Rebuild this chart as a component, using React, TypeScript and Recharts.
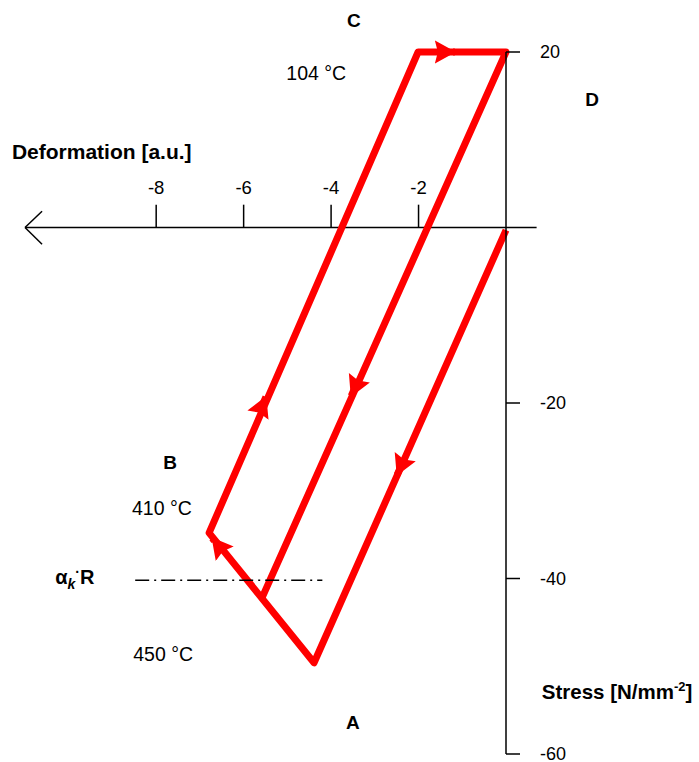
import React from 'react';
import { LineChart, Line, XAxis, YAxis, ReferenceLine, ReferenceDot } from 'recharts';

const FONT = '"Liberation Sans", Arial, sans-serif';
const RED = '#ff0000';

// the thermal cycle, in drawing order
const loopPath = [
  { x: 0, y: -0.3 },
  { x: -4.39, y: -49.6 }, // A
  { x: -6.79, y: -34.8 }, // B
  { x: -2.01, y: 20 }, // C
  { x: 0, y: 20 }, // D
  { x: -5.58, y: -42.2 }, // back onto A-B
];

// arrow tips, with the loop segment each one sits on
const arrowTips = [
  { x: -2.49, y: -28.2, seg: 0 },
  { x: -6.72, y: -35.4, seg: 1 },
  { x: -5.49, y: -19.3, seg: 2 },
  { x: -1.17, y: 20, seg: 3 },
  { x: -3.54, y: -19.2, seg: 4 },
];

const xTicks = [-8, -6, -4, -2];
const yTicks = [20, -20, -40, -60];
const levelLine = [
  { x: -8.48, y: -40.2 },
  { x: -4.2, y: -40.2 },
];

const labels = [
  { id: 'C', text: 'C', x: -3.48, y: 23.6, bold: true },
  { id: 't104', text: '104 °C', x: -4.34, y: 17.6, bold: false },
  { id: 'D', text: 'D', x: 1.97, y: 14.6, bold: true },
  { id: 'B', text: 'B', x: -7.68, y: -26.8, bold: true },
  { id: 't410', text: '410 °C', x: -7.87, y: -32.0, bold: false },
  { id: 't450', text: '450 °C', x: -7.84, y: -48.6, bold: false },
  { id: 'A', text: 'A', x: -3.5, y: -56.4, bold: true },
];

const arrowLines = arrowTips.map((a) => {
  const from = loopPath[a.seg];
  const to = loopPath[a.seg + 1];
  return [
    { x: a.x - 0.02 * (to.x - from.x), y: a.y - 0.02 * (to.y - from.y) },
    { x: a.x, y: a.y },
  ];
});

const textShape = (text: string, bold: boolean, size: number, anchor = 'middle') => (p: any) => (
  <text
    x={p.cx}
    y={p.cy}
    dy="0.35em"
    textAnchor={anchor}
    fontFamily={FONT}
    fontSize={size}
    fontWeight={bold ? 'bold' : 'normal'}
    fill="#000"
  >
    {text}
  </text>
);

export default function App() {
  return (
    <div style={{ position: 'fixed', left: 0, top: 0, width: 699, height: 762, background: '#fff' }}>
      <svg width={0} height={0} style={{ position: 'absolute' }}>
        <defs>
          <marker
            id="arrowHead"
            viewBox="0 0 22 24"
            markerWidth={22}
            markerHeight={24}
            refX={20}
            refY={12}
            orient="auto"
            markerUnits="userSpaceOnUse"
          >
            <path d="M0,0.5 L21,12 L0,23.5 L3,12 Z" fill={RED} />
          </marker>
        </defs>
      </svg>
      <LineChart width={699} height={762} margin={{ top: 52, right: 133, bottom: 8, left: 25 }}>
        <XAxis type="number" dataKey="x" domain={[-11, 0]} hide />
        <YAxis
          orientation="right"
          type="number"
          domain={[-60, 20]}
          ticks={yTicks}
          interval={0}
          width={60}
          tickSize={14}
          tickMargin={20}
          axisLine={{ stroke: '#000', strokeWidth: 1.5 }}
          tickLine={{ stroke: '#000', strokeWidth: 1.5 }}
          tick={{ fill: '#000', fontSize: 18, fontFamily: FONT }}
        />
        {/* deformation axis with its arrow */}
        <ReferenceLine
          segment={[{ x: -11, y: 0 }, { x: 0.7, y: 0 }]}
          stroke="#000"
          strokeWidth={1.5}
          ifOverflow="visible"
        />
        <ReferenceLine
          segment={[{ x: -11, y: 0 }, { x: -10.61, y: 1.85 }]}
          stroke="#000"
          strokeWidth={1.5}
          ifOverflow="visible"
        />
        <ReferenceLine
          segment={[{ x: -11, y: 0 }, { x: -10.61, y: -1.9 }]}
          stroke="#000"
          strokeWidth={1.5}
          ifOverflow="visible"
        />
        {xTicks.map((t) => (
          <ReferenceLine
            key={'xt' + t}
            segment={[{ x: t, y: 0 }, { x: t, y: 2.6 }]}
            stroke="#000"
            strokeWidth={1.5}
          />
        ))}
        {xTicks.map((t) => (
          <ReferenceDot key={'xl' + t} x={t} y={4.5} r={0} ifOverflow="visible" shape={textShape(String(t), false, 18.5)} />
        ))}
        <Line
          data={loopPath}
          dataKey="y"
          type="linear"
          stroke={RED}
          strokeWidth={7}
          strokeLinejoin="round"
          dot={false}
          activeDot={false}
          isAnimationActive={false}
        />
        {arrowLines.map((d, i) => (
          <Line
            key={'ar' + i}
            data={d}
            dataKey="y"
            type="linear"
            stroke={RED}
            strokeWidth={7}
            markerEnd="url(#arrowHead)"
            dot={false}
            activeDot={false}
            isAnimationActive={false}
          />
        ))}
        <ReferenceLine
          segment={levelLine}
          stroke="#000"
          strokeWidth={1.5}
          strokeDasharray="14 5 2 5"
          ifOverflow="visible"
        />
        {labels.map((l) => (
          <ReferenceDot
            key={l.id}
            x={l.x}
            y={l.y}
            r={0}
            ifOverflow="visible"
            shape={textShape(l.text, l.bold, l.bold ? 19 : 19.5)}
          />
        ))}
        <ReferenceDot
          x={-11.3}
          y={8.6}
          r={0}
          ifOverflow="visible"
          shape={textShape('Deformation [a.u.]', true, 21, 'start')}
        />
        <ReferenceDot
          x={-10.31}
          y={-39.8}
          r={0}
          ifOverflow="visible"
          shape={(p: any) => (
            <text x={p.cx} y={p.cy} dy="0.35em" fontFamily={FONT} fontSize={20} fontWeight="bold" fill="#000">
              α
              <tspan fontSize={14} fontStyle="italic" dy={5}>k</tspan>
              <tspan fontSize={14} dy={-12}>·</tspan>
              <tspan dy={7}>R</tspan>
            </text>
          )}
        />
        <ReferenceDot
          x={0.82}
          y={-52.9}
          r={0}
          ifOverflow="visible"
          shape={(p: any) => (
            <text x={p.cx} y={p.cy} dy="0.35em" fontFamily={FONT} fontSize={20.5} fontWeight="bold" fill="#000">
              Stress [N/mm
              <tspan fontSize={13} dy={-8}>-2</tspan>
              <tspan dy={8}>]</tspan>
            </text>
          )}
        />
      </LineChart>
    </div>
  );
}
